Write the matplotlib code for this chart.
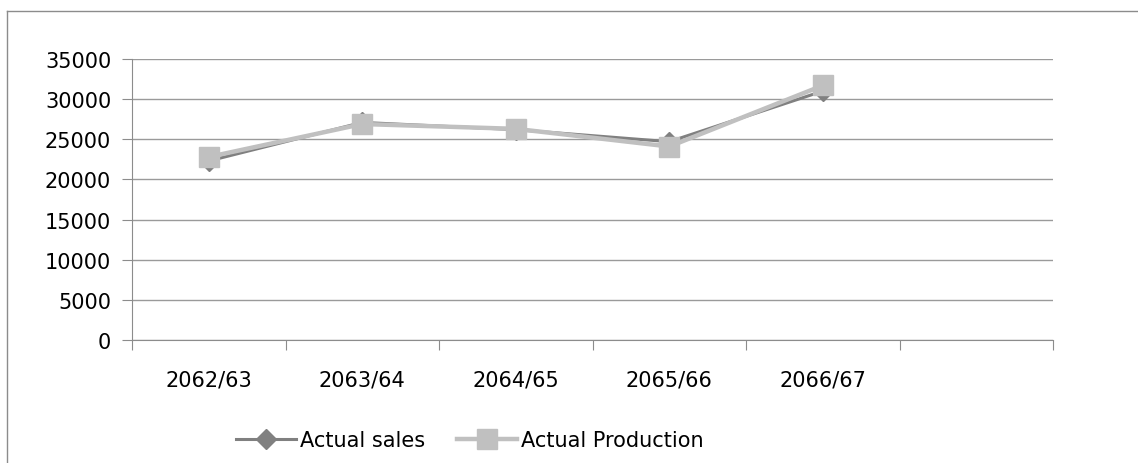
import matplotlib.pyplot as plt
from matplotlib.lines import Line2D

years = ['2062/63', '2063/64', '2064/65', '2065/66', '2066/67']
sales = [22300, 27100, 26200, 24700, 31000]
production = [22800, 26900, 26300, 24100, 31700]
yticks = [0, 5000, 10000, 15000, 20000, 25000, 30000, 35000]

W, H = 1138, 464
fig = plt.figure(figsize=(W / 100, H / 100), dpi=100)

# chart frame (only top and left edges show)
fig.add_artist(Line2D([7 / W, 1.0], [1 - 12 / H, 1 - 12 / H], color='#8c8c8c', lw=1.0))
fig.add_artist(Line2D([7 / W, 7 / W], [0, 1 - 12 / H], color='#8c8c8c', lw=1.0))

left, right, top, bottom = 132, 1053, 60, 341
ax = fig.add_axes([left / W, 1 - bottom / H, (right - left) / W, (bottom - top) / H])

xs = [i + 0.5 for i in range(len(years))]
ax.plot(xs, sales, color='#808080', lw=2.2, marker='D', markersize=10, label='Actual sales', zorder=3)
ax.plot(xs, production, color='#c0c0c0', lw=3.2, marker='s', markersize=14.5, label='Actual Production', zorder=4)

ax.set_xlim(0, 6)
ax.set_ylim(0, 35000)
ax.set_yticks(yticks)
ax.set_yticklabels([str(v) for v in yticks])
ax.set_xticks(range(7))
ax.set_xticklabels([])
for x, lab in zip(xs, years):
    ax.text(x, -4900, lab, ha='center', va='center', fontsize=15)

ax.grid(axis='y', color='#9a9a9a', lw=1.0)
ax.set_axisbelow(True)
for s in ['top', 'right']:
    ax.spines[s].set_visible(False)
ax.spines['left'].set_color('#8c8c8c')
ax.spines['bottom'].set_color('#8c8c8c')
ax.tick_params(axis='y', length=7, color='#8c8c8c', labelsize=15, pad=8)
ax.tick_params(axis='x', length=7, color='#8c8c8c')

fig.legend(loc='center', bbox_to_anchor=(470 / W, 1 - 441 / H), ncol=2, frameon=False,
           fontsize=15, handlelength=2.9, handletextpad=0.2, columnspacing=1.5)

fig.savefig('out.png', dpi=100)
